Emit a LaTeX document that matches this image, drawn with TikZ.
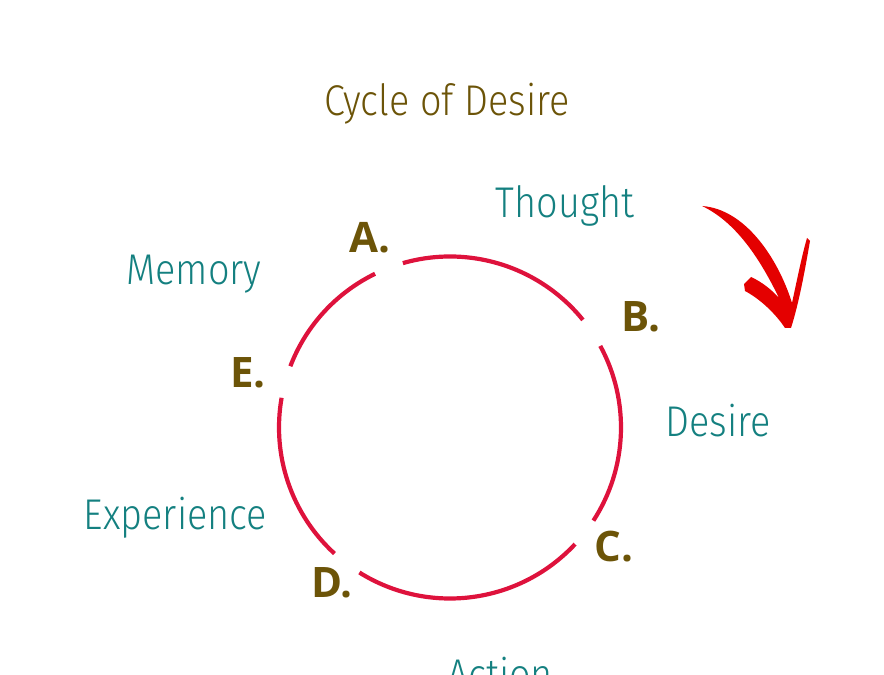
\documentclass[tikz,border=0pt]{standalone}
\usepackage{fontspec}
\newfontfamily\thinfont{Fira Sans Light}[FakeStretch=0.88]
\newfontfamily\letterfont{Open Sans}
\definecolor{cycbrown}{RGB}{108,84,8}
\definecolor{cycteal}{RGB}{20,128,128}
\definecolor{cycred}{RGB}{222,18,60}
\definecolor{brushred}{RGB}{228,0,0}
\begin{document}
\begin{tikzpicture}[x=1pt, y=1pt, line cap=butt,
  stage/.style={font=\thinfont\fontsize{43}{43}\selectfont, text=cycteal, anchor=base, inner sep=0pt},
  letter/.style={font=\letterfont\bfseries\fontsize{42}{42}\selectfont, text=cycbrown, anchor=base, inner sep=0pt},
  ring/.style={draw=cycred, line width=4.2pt}]
\useasboundingbox (0,0) rectangle (884,675);
\clip (0,0) rectangle (884,675);
\def\r{171}
\coordinate (c) at (450,247.5);
% title
\node[stage, text=cycbrown] (title) at (447,559) {Cycle of Desire};
% the ring, broken at each letter
\draw[ring] ([shift={(39:\r)}]c) arc (39:106:\r);
\draw[ring] ([shift={(116:\r)}]c) arc (116:159:\r);
\draw[ring] ([shift={(170:\r)}]c) arc (170:227.5:\r);
\draw[ring] ([shift={(238:\r)}]c) arc (238:317:\r);
\draw[ring] ([shift={(327:\r)}]c) arc (327:388.5:\r);
% letters
\node[letter] (a) at (370,422) {A.};
\node[letter] (b) at (641,343) {B.};
\node[letter] (cc) at (614,113) {C.};
\node[letter] (d) at (332,77) {D.};
\node[letter] (e) at (248,287) {E.};
% stages
\node[stage] (thought) at (565,457) {Thought};
\node[stage] (desire) at (718,238) {Desire};
\node[stage] (action) at (500,-15) {Action};
\node[stage] (experience) at (175.5,145) {Experience};
\node[stage] (memory) at (194,390) {Memory};
% brush arrow
\fill[brushred] (702,469) .. controls (745,466) and (778,417) .. (792,372)
  .. controls (797,395) and (802,420) .. (807,437) -- (810,434)
  .. controls (805,405) and (799,372) .. (791,347) -- (785,347)
  .. controls (775,362) and (760,376) .. (745,384) -- (744,391) -- (751,398)
  .. controls (762,393) and (772,385) .. (779,377)
  .. controls (762,412) and (738,452) .. (702,469) -- cycle;
\end{tikzpicture}
\end{document}
